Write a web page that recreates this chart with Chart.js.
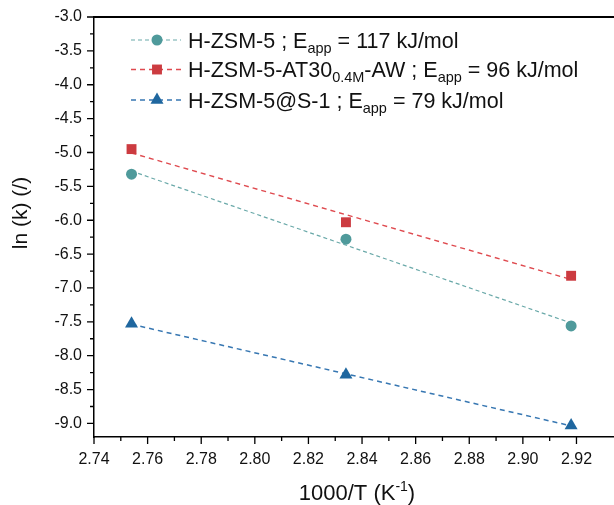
<!DOCTYPE html>
<html>
<head>
<meta charset="UTF-8">
<title>ln(k) vs 1000/T</title>
<script src="https://cdn.jsdelivr.net/npm/chart.js"></script>
<style>
    * { margin: 0; padding: 0; }
    body { background: #fff; width: 614px; height: 505px; overflow: hidden; }
    #wrap { width: 614px; height: 505px; }
</style>
</head>
<body>
<div id="wrap"><canvas id="arrhenius" width="614" height="505"></canvas></div>
<script>
    // data
    const invT = [2.754, 2.834, 2.918];           // 1000/T (K^-1)
    const lnkHZSM5 = [-5.32, -6.28, -7.56];        // circles
    const lnkAT30 = [-4.95, -6.03, -6.82];         // squares
    const lnkS1 = [-7.53, -8.28, -9.03];           // triangles

    const seriesNames = ['H-ZSM-5', 'H-ZSM-5-AT30', 'H-ZSM-5@S-1'];
    const eappValues = [117, 96, 79];

    const xTicks = [2.74, 2.76, 2.78, 2.80, 2.82, 2.84, 2.86, 2.88, 2.90, 2.92];
    const yTicks = [-3.0, -3.5, -4.0, -4.5, -5.0, -5.5, -6.0, -6.5, -7.0, -7.5, -8.0, -8.5, -9.0];

    const FONT = "'Liberation Sans', Arial, sans-serif";

    // linear fit (least squares) through each set of points
    function fitLine(xs, ys) {
        const n = xs.length;
        const mx = xs.reduce((a, b) => a + b, 0) / n;
        const my = ys.reduce((a, b) => a + b, 0) / n;
        let sxy = 0, sxx = 0;
        for (let i = 0; i < n; i++) {
            sxy += (xs[i] - mx) * (ys[i] - my);
            sxx += (xs[i] - mx) * (xs[i] - mx);
        }
        const b = sxy / sxx;
        const a = my - b * mx;
        return [xs[0], xs[n - 1]].map(x => ({ x: x, y: a + b * x }));
    }
    const pts = (ys) => invT.map((x, i) => ({ x: x, y: ys[i] }));

    const styles = [
        { marker: 'circle', color: '#4f9a9b', line: '#6aa9a9', dash: [4, 3], lw: 1.2, r: 5.5 },
        { marker: 'rect', color: '#cc3b40', line: '#df4a4f', dash: [5, 4], lw: 1.4, r: 7 },
        { marker: 'triangle', color: '#1f679f', line: '#3777b2', dash: [5, 4], lw: 1.5, r: 7.5 }
    ];
    const seriesY = [lnkHZSM5, lnkAT30, lnkS1];

    const datasets = [];
    seriesY.forEach((ys, i) => {
        const s = styles[i];
        datasets.push({
            data: fitLine(invT, ys), showLine: true, borderColor: s.line, borderWidth: s.lw,
            borderDash: s.dash, pointRadius: 0, fill: false, order: 2
        });
        datasets.push({
            data: pts(ys), showLine: false, pointStyle: s.marker, pointRadius: s.r,
            pointBackgroundColor: s.color, pointBorderColor: s.color, pointBorderWidth: 0, order: 1
        });
    });

    const minorFromMajor = (majors) => majors.slice(0, -1).map((v, i) => (v + majors[i + 1]) / 2);

    // frame, tick marks, axis titles and legend
    const decorPlugin = {
        id: 'decor',
        afterDraw(chart) {
            const ctx = chart.ctx;
            const area = chart.chartArea;
            const xs = chart.scales.x, ys = chart.scales.y;
            ctx.save();
            ctx.strokeStyle = '#000';

            // top border
            ctx.lineWidth = 2;
            ctx.beginPath();
            ctx.moveTo(area.left, area.top);
            ctx.lineTo(chart.width, area.top);
            ctx.stroke();

            // ticks
            ctx.lineWidth = 1.3;
            ctx.beginPath();
            xTicks.forEach(v => { const p = xs.getPixelForValue(v); ctx.moveTo(p, area.bottom); ctx.lineTo(p, area.bottom + 7); });
            minorFromMajor(xTicks).forEach(v => { const p = xs.getPixelForValue(v); ctx.moveTo(p, area.bottom); ctx.lineTo(p, area.bottom + 4); });
            yTicks.forEach(v => { const p = ys.getPixelForValue(v); ctx.moveTo(area.left, p); ctx.lineTo(area.left - 7, p); });
            minorFromMajor(yTicks).forEach(v => { const p = ys.getPixelForValue(v); ctx.moveTo(area.left, p); ctx.lineTo(area.left - 4, p); });
            ctx.stroke();

            ctx.fillStyle = '#111';
            // x title with superscript
            ctx.textBaseline = 'alphabetic';
            ctx.textAlign = 'left';
            const t1 = '1000/T (K', t2 = '-1', t3 = ')';
            ctx.font = '22px ' + FONT; const w1 = ctx.measureText(t1).width, w3 = ctx.measureText(t3).width;
            ctx.font = '14px ' + FONT; const w2 = ctx.measureText(t2).width;
            let x0 = 357 - (w1 + w2 + w3) / 2;
            const by = 500;
            ctx.font = '22px ' + FONT; ctx.fillText(t1, x0, by);
            ctx.font = '14px ' + FONT; ctx.fillText(t2, x0 + w1, by - 9);
            ctx.font = '22px ' + FONT; ctx.fillText(t3, x0 + w1 + w2, by);

            // y title
            ctx.save();
            ctx.translate(27, 213);
            ctx.rotate(-Math.PI / 2);
            ctx.textAlign = 'center';
            ctx.font = '21px ' + FONT;
            ctx.fillText('ln (k) (/)', 0, 0);
            ctx.restore();

            // legend
            const rowsY = [40, 69.5, 100];
            const parts = [
                [[seriesNames[0] + ' ; E', 0], ['app', 1], [' = ' + eappValues[0] + ' kJ/mol', 0]],
                [[seriesNames[1], 0], ['0.4M', 1], ['-AW ; E', 0], ['app', 1], [' = ' + eappValues[1] + ' kJ/mol', 0]],
                [[seriesNames[2] + ' ; E', 0], ['app', 1], [' = ' + eappValues[2] + ' kJ/mol', 0]]
            ];
            rowsY.forEach((yy, i) => {
                const s = styles[i];
                ctx.save();
                ctx.strokeStyle = s.line;
                ctx.lineWidth = s.lw;
                ctx.setLineDash(s.dash);
                ctx.beginPath();
                ctx.moveTo(131, yy); ctx.lineTo(181, yy);
                ctx.stroke();
                ctx.restore();
                ctx.fillStyle = s.color;
                ctx.beginPath();
                if (s.marker === 'circle') ctx.arc(157, yy, s.r, 0, Math.PI * 2);
                else if (s.marker === 'rect') { const h = s.r * Math.SQRT1_2; ctx.rect(157 - h, yy - h, 2 * h, 2 * h); }
                else {
                    ctx.moveTo(157, yy - s.r);
                    ctx.lineTo(157 + s.r * 0.866, yy + s.r * 0.5);
                    ctx.lineTo(157 - s.r * 0.866, yy + s.r * 0.5);
                    ctx.closePath();
                }
                ctx.fill();

                ctx.fillStyle = '#111';
                let tx = 188;
                parts[i].forEach(([txt, sub]) => {
                    ctx.font = (sub ? '14.5px ' : '21.5px ') + FONT;
                    ctx.fillText(txt, tx, yy + 7.5 + (sub ? 5 : 0));
                    tx += ctx.measureText(txt).width;
                });
            });
            ctx.restore();
        }
    };

    new Chart(document.getElementById('arrhenius'), {
        type: 'scatter',
        data: { datasets: datasets },
        options: {
            responsive: false,
            animation: false,
            layout: { autoPadding: false, padding: { top: 17, right: 0, left: 0, bottom: 0 } },
            plugins: { legend: { display: false }, tooltip: { enabled: false } },
            scales: {
                x: {
                    type: 'linear', min: 2.74, max: 2.934,
                    afterBuildTicks: (s) => { s.ticks = xTicks.map(v => ({ value: v })); },
                    afterFit: (s) => { s.height = 68; s.paddingLeft = 0; s.paddingRight = 0; },
                    grid: { display: false, drawTicks: false },
                    border: { display: true, color: '#000', width: 1.5 },
                    ticks: { color: '#111', font: { family: FONT, size: 16 }, padding: 13, maxRotation: 0,
                        callback: (v) => Number(v).toFixed(2) }
                },
                y: {
                    type: 'linear', min: -9.2, max: -3.0,
                    afterBuildTicks: (s) => { s.ticks = yTicks.map(v => ({ value: v })); },
                    afterFit: (s) => { s.width = 94; s.paddingTop = 0; s.paddingBottom = 0; },
                    grid: { display: false, drawTicks: false },
                    border: { display: true, color: '#000', width: 1.5 },
                    ticks: { color: '#111', font: { family: FONT, size: 16 }, padding: 12,
                        callback: (v) => Number(v).toFixed(1) }
                }
            }
        },
        plugins: [decorPlugin]
    });
</script>
</body>
</html>
